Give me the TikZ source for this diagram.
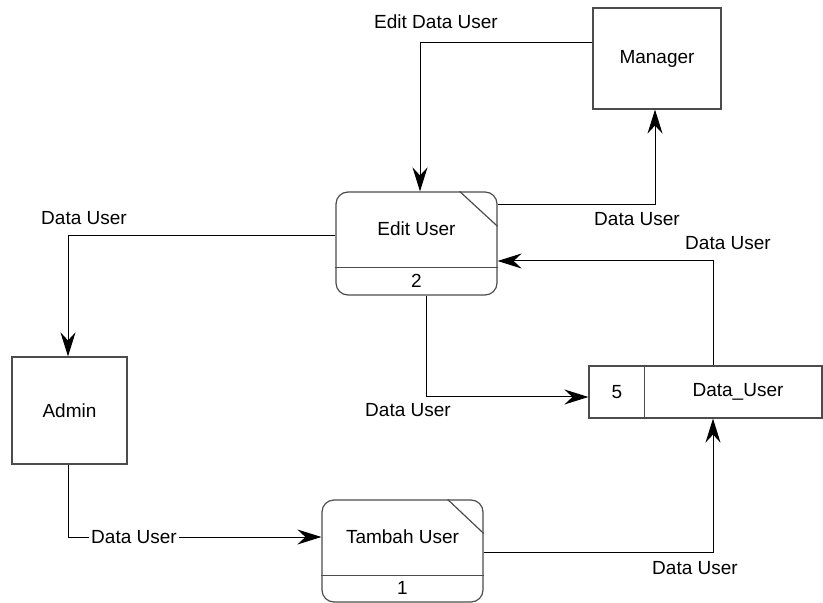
\documentclass[tikz,border=0pt]{standalone}
\usepackage{fontspec}
\setmainfont{Liberation Sans}
\usetikzlibrary{arrows.meta,calc}

\begin{document}
\begin{tikzpicture}[x=0.5pt,y=-0.5pt,
  every node/.style={font=\fontsize{9.5}{11}\selectfont},
  entity/.style={draw=black!70,line width=0.6pt},
  process/.style={draw=black!70,line width=0.6pt,rounded corners=6pt,minimum width=80.5pt,minimum height=51.5pt},
  store/.style={draw=black!70,line width=0.6pt,minimum width=116.5pt,minimum height=26pt},
  part/.style={draw=black!70,line width=0.6pt},
  flow/.style={draw,line width=0.5pt,-{Stealth[length=12pt,width=7.5pt,inset=4pt]}},
  flowlabel/.style={inner sep=1pt}]
  \useasboundingbox (0,0) rectangle (823,603);

  % external entities
  \node[entity,minimum width=64pt,minimum height=50.5pt] (manager) at (657,58.5) {Manager};
  \node[entity,minimum width=57.5pt,minimum height=53.5pt] (admin) at (69.5,410.5) {Admin};

  % processes
  \node[process] (p2) at (416.5,243.5) {};
  \draw[part] ($(p2.south west)+(0,-28)$) -- ($(p2.south east)+(0,-28)$);
  \draw[part] ($(p2.north east)+(-38,0)$) -- ($(p2.north east)+(0,35)$);
  \node (p2name) at (416.5,229) {Edit User};
  \node (p2num) at (416.5,281) {2};

  \node[process,minimum height=51pt] (p1) at (402.5,551) {};
  \draw[part] ($(p1.south west)+(0,-27)$) -- ($(p1.south east)+(0,-27)$);
  \draw[part] ($(p1.north east)+(-36,0)$) -- ($(p1.north east)+(0,34)$);
  \node (p1name) at (402.5,537) {Tambah User};
  \node (p1num) at (402.5,588) {1};

  % data store
  \node[store] (store) at (705.5,392) {};
  \draw[part] ($(store.north west)+(56,0)$) -- ($(store.south west)+(56,0)$);
  \node (storenum) at (617,392) {5};
  \node (storename) at (738,392) {Data\_User};

  % flows
  \draw[flow] ([yshift=7.75pt]manager.west) -| ([xshift=1.75pt]p2.north);
  \draw[flow] ([yshift=19.25pt]p2.east) -| ([xshift=-1pt]manager.south);
  \draw[flow] ([xshift=3.75pt]store.north) |- ([yshift=-8.75pt]p2.east);
  \draw[flow] ([yshift=3.75pt]p2.west) -| ([xshift=-0.75pt]admin.north);
  \draw[flow] ([xshift=4.75pt]p2.south) |- ([yshift=-2.5pt]store.west);
  \draw[flow] ([xshift=-0.75pt]admin.south) |- ([yshift=7pt]p1.west);
  \draw[flow] ([yshift=-0.5pt]p1.east) -| ([xshift=3.75pt]store.south);

  % flow labels
  \node[flowlabel] (l1) at (436,22) {Edit Data User};
  \node[flowlabel] (l2) at (637,219) {Data User};
  \node[flowlabel] (l3) at (728,243) {Data User};
  \node[flowlabel] (l4) at (84,218) {Data User};
  \node[flowlabel] (l5) at (408,410) {Data User};
  \node[flowlabel,fill=white] (l6) at (134,537) {Data User};
  \node[flowlabel] (l7) at (695,568) {Data User};
\end{tikzpicture}
\end{document}
